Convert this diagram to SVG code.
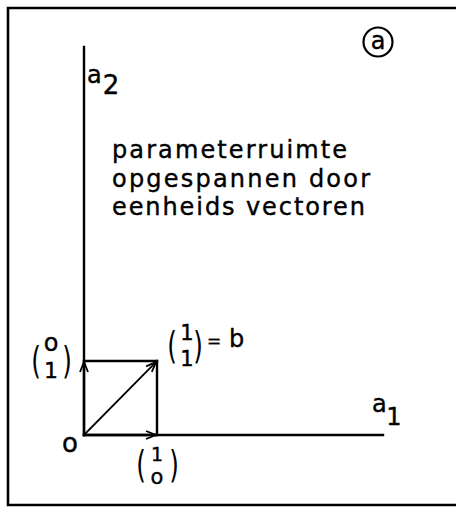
<svg xmlns="http://www.w3.org/2000/svg" width="456" height="511" viewBox="0 0 456 511">
<style>
.ln{stroke:#000;stroke-width:2.4;fill:none;stroke-linecap:square}
.t{font-family:"DejaVu Sans",sans-serif;fill:#000;stroke:#000;stroke-width:0.4}
.p{font-family:"DejaVu Sans",sans-serif;fill:#000;font-size:38px;text-anchor:middle}
</style>
<defs>
<marker id="ah" markerUnits="userSpaceOnUse" markerWidth="14" markerHeight="12" viewBox="-11 -6 13 12" refX="0" refY="0" orient="auto">
<path d="M-10,-4 L0,0 L-10,4" fill="none" stroke="#000" stroke-width="1.8"/>
</marker>
</defs>
<rect width="456" height="511" fill="#fff"/>
<g id="frame">
<path class="ln" d="M456,8 H8 V505 H456" style="stroke-width:2.6;stroke-linecap:butt"/>
</g>
<g id="label-a">
<circle cx="378" cy="42" r="14.5" fill="none" stroke="#000" stroke-width="2.2"/>
<text class="t" x="378" y="48.5" font-size="24" text-anchor="middle">a</text>
</g>
<g id="axes">
<line class="ln" x1="84" y1="47" x2="84" y2="435"/>
<line class="ln" x1="84" y1="435" x2="383" y2="435"/>
</g>
<g id="axis-a2">
<text class="t" x="87" y="83" font-size="24">a</text>
<text class="t" x="111" y="94" font-size="26" text-anchor="middle">2</text>
</g>
<g id="axis-a1">
<text class="t" x="372" y="412" font-size="24">a</text>
<text class="t" x="394" y="425" font-size="24" text-anchor="middle">1</text>
</g>
<g id="caption">
<text class="t" x="112" y="158" font-size="24" textLength="235">parameterruimte</text>
<text class="t" x="112" y="187" font-size="24" textLength="258">opgespannen door</text>
<text class="t" x="112" y="215" font-size="24" textLength="253">eenheids vectoren</text>
</g>
<g id="connectors">
<line class="ln" x1="84" y1="361" x2="157" y2="361"/>
<line class="ln" x1="157" y1="361" x2="157" y2="435"/>
<line class="ln" x1="84" y1="435" x2="84" y2="362" marker-end="url(#ah)"/>
<line class="ln" x1="84" y1="435" x2="156" y2="435" marker-end="url(#ah)"/>
<line class="ln" x1="84" y1="435" x2="156" y2="362" marker-end="url(#ah)" style="stroke-width:1.8"/>
</g>
<g id="origin">
<text class="t" x="70" y="452" font-size="26" text-anchor="middle">o</text>
</g>
<g id="vec-01">
<text class="p" transform="translate(36,373) scale(0.65,1)">(</text>
<text class="p" transform="translate(67,373) scale(0.65,1)">)</text>
<text class="t" x="51" y="351" font-size="24" text-anchor="middle">o</text>
<text class="t" x="51" y="378" font-size="22" text-anchor="middle">1</text>
</g>
<g id="vec-11">
<text class="p" transform="translate(172,358) scale(0.65,1)">(</text>
<text class="p" transform="translate(198,358) scale(0.65,1)">)</text>
<text class="t" x="187" y="340" font-size="21" text-anchor="middle">1</text>
<text class="t" x="187" y="366" font-size="21" text-anchor="middle">1</text>
<text class="t" x="207" y="347"><tspan font-size="17">=</tspan><tspan font-size="24"> b</tspan></text>
</g>
<g id="vec-10">
<text class="p" transform="translate(141,477) scale(0.65,1)">(</text>
<text class="p" transform="translate(174,477) scale(0.65,1)">)</text>
<text class="t" x="157" y="461" font-size="19" text-anchor="middle">1</text>
<text class="t" x="157" y="484" font-size="21" text-anchor="middle">o</text>
</g>
</svg>
